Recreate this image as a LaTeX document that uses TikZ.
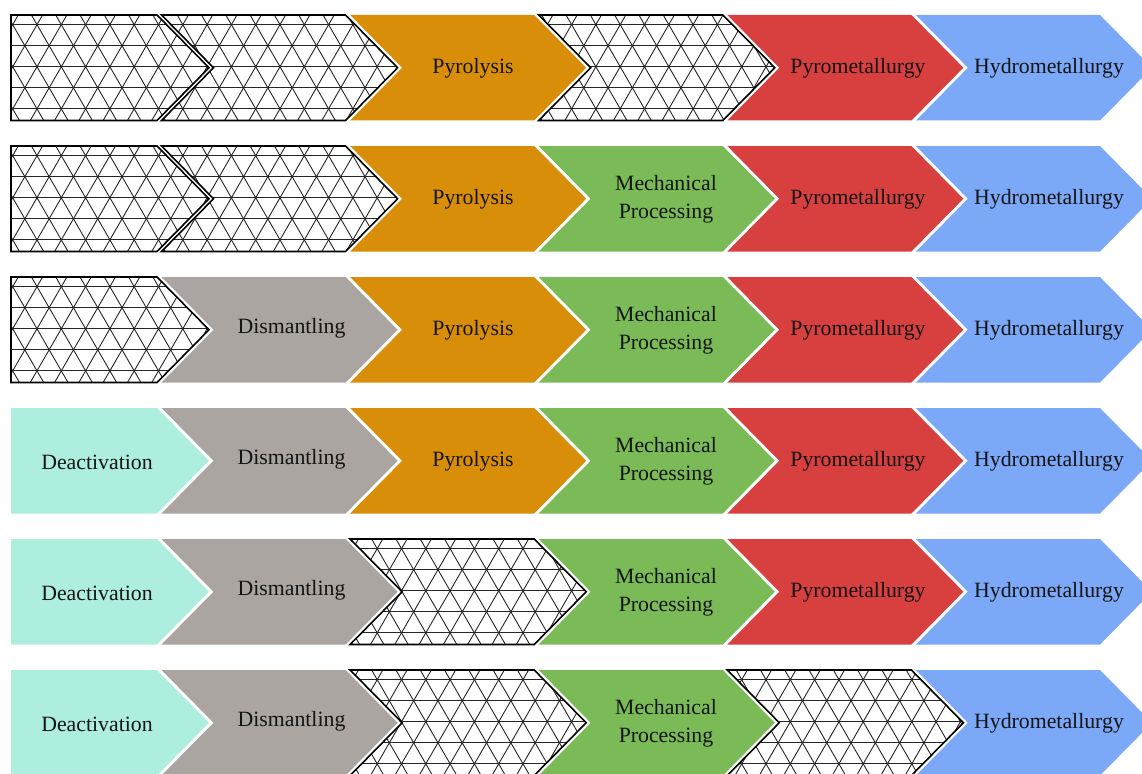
\documentclass[tikz,border=0pt]{standalone}
\usepackage{fontspec}
\setmainfont{Liberation Serif}

\definecolor{deactC}{RGB}{174,238,222}
\definecolor{dismC}{RGB}{170,165,160}
\definecolor{pyroC}{RGB}{216,142,8}
\definecolor{mechC}{RGB}{123,187,87}
\definecolor{pymetC}{RGB}{216,64,64}
\definecolor{hydroC}{RGB}{124,168,248}
\definecolor{inkC}{RGB}{20,20,20}

% geometry of one chevron: row #1, column #2
\newcommand\stagegeom[2]{%
  \pgfmathsetmacro\sgTop{15+131*(#1-1)}%
  \pgfmathsetmacro\sgBot{\sgTop+105.5}%
  \pgfmathsetmacro\sgMid{\sgTop+52.75}%
  \pgfmathsetmacro\sgTip{209+188.6*(#2-1)}%
  \pgfmathsetmacro\sgXb{\sgTip-52}%
  \ifnum#2=1
    \def\sgXa{11}\def\sgXn{11}%
  \else
    \pgfmathsetmacro\sgXa{\sgTip-188.6-52+4.5}%
    \pgfmathsetmacro\sgXn{\sgTip-188.6+4.5}%
  \fi
}
\def\stagepath{(\sgXa,\sgTop) -- (\sgXb,\sgTop) -- (\sgTip,\sgMid) -- (\sgXb,\sgBot) -- (\sgXa,\sgBot) -- (\sgXn,\sgMid) -- cycle}

% coloured stage: row, column, colour, text x, text y offset, text
\newcommand\solidstage[6]{%
  \stagegeom{#1}{#2}%
  \fill[#3] \stagepath;
  \node[stagetext] (r#1c#2) at (#4,\sgMid+#5) {#6};
}

% empty stage with a triangular lattice: row, column
\newcommand\hatchstage[2]{%
  \stagegeom{#1}{#2}%
  \begin{scope}
    \clip \stagepath;
    \pgfmathtruncatemacro\ilo{(\sgXa-60-12.7)/24.3}%
    \pgfmathtruncatemacro\ihi{(\sgTip+60-12.7)/24.3}%
    \pgfmathsetmacro\yc{\sgMid-1}%
    \foreach \i in {\ilo,...,\ihi} {
      \pgfmathsetmacro\px{12.7+24.3*\i}
      \draw[latt] (\px-34.64,\yc+60) -- (\px+34.64,\yc-60)
                  (\px-34.64,\yc-60) -- (\px+34.64,\yc+60);
    }
    \foreach \j in {-3,...,3}
      \draw[latt] (\sgXa-5,\yc+21.04*\j) -- (\sgTip+5,\yc+21.04*\j);
  \end{scope}
  \draw[stageframe] \stagepath;
}

\begin{document}
\begin{tikzpicture}[x=1pt,y=-1pt,
  latt/.style={line width=0.9pt, black!85},
  stageframe/.style={line width=1.6pt, black, line join=miter},
  stagetext/.style={font=\fontsize{21.8}{28}\selectfont, text=inkC,
    align=center, inner sep=0pt, anchor=center}]

\fill[white] (0,0) rectangle (1142,773);
\useasboundingbox (0,0) rectangle (1142,773);

% row 1
\hatchstage{1}{1}
\hatchstage{1}{2}
\solidstage{1}{3}{pyroC}{473}{0.8}{Pyrolysis}
\hatchstage{1}{4}
\solidstage{1}{5}{pymetC}{858}{0.8}{Pyrometallurgy}
\solidstage{1}{6}{hydroC}{1049}{0.8}{Hydrometallurgy}

% row 2
\hatchstage{2}{1}
\hatchstage{2}{2}
\solidstage{2}{3}{pyroC}{473}{0.8}{Pyrolysis}
\solidstage{2}{4}{mechC}{666}{0.8}{Mechanical\\Processing}
\solidstage{2}{5}{pymetC}{858}{0.8}{Pyrometallurgy}
\solidstage{2}{6}{hydroC}{1049}{0.8}{Hydrometallurgy}

% row 3
\hatchstage{3}{1}
\solidstage{3}{2}{dismC}{291.5}{-1}{Dismantling}
\solidstage{3}{3}{pyroC}{473}{0.8}{Pyrolysis}
\solidstage{3}{4}{mechC}{666}{0.8}{Mechanical\\Processing}
\solidstage{3}{5}{pymetC}{858}{0.8}{Pyrometallurgy}
\solidstage{3}{6}{hydroC}{1049}{0.8}{Hydrometallurgy}

% row 4
\solidstage{4}{1}{deactC}{97}{1.2}{Deactivation}
\solidstage{4}{2}{dismC}{291.5}{-1}{Dismantling}
\solidstage{4}{3}{pyroC}{473}{0.8}{Pyrolysis}
\solidstage{4}{4}{mechC}{666}{0.8}{Mechanical\\Processing}
\solidstage{4}{5}{pymetC}{858}{0.8}{Pyrometallurgy}
\solidstage{4}{6}{hydroC}{1049}{0.8}{Hydrometallurgy}

% row 5
\solidstage{5}{1}{deactC}{97}{1.2}{Deactivation}
\solidstage{5}{2}{dismC}{291.5}{-1}{Dismantling}
\hatchstage{5}{3}
\solidstage{5}{4}{mechC}{666}{0.8}{Mechanical\\Processing}
\solidstage{5}{5}{pymetC}{858}{0.8}{Pyrometallurgy}
\solidstage{5}{6}{hydroC}{1049}{0.8}{Hydrometallurgy}

% row 6
\solidstage{6}{1}{deactC}{97}{1.2}{Deactivation}
\solidstage{6}{2}{dismC}{291.5}{-1}{Dismantling}
\hatchstage{6}{3}
\solidstage{6}{4}{mechC}{666}{0.8}{Mechanical\\Processing}
\hatchstage{6}{5}
\solidstage{6}{6}{hydroC}{1049}{0.8}{Hydrometallurgy}

\end{tikzpicture}
\end{document}
